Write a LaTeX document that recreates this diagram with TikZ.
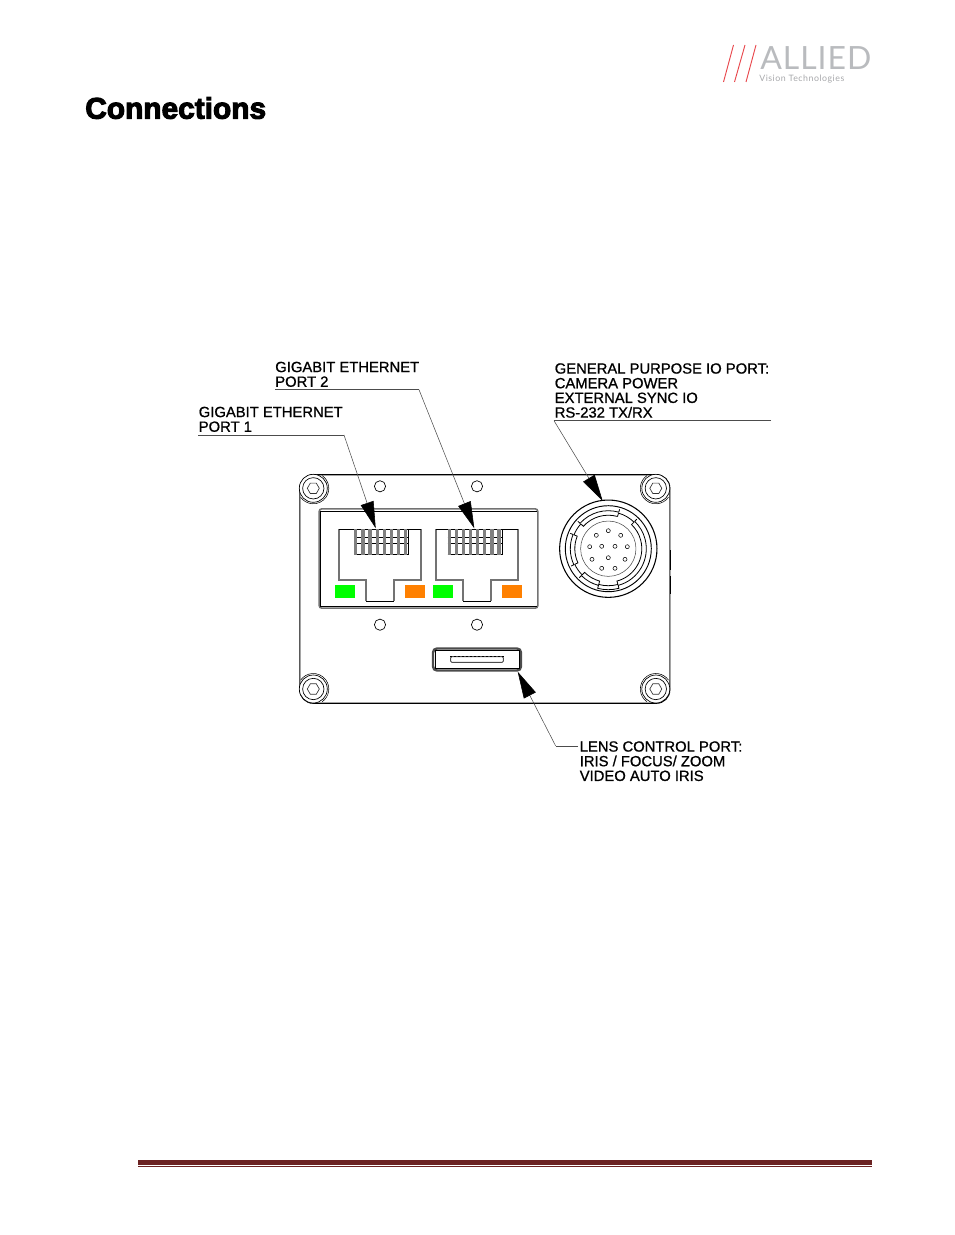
\documentclass[tikz,border=0pt]{standalone}
\usepackage{fontspec}
\usepackage{tikz}
\usetikzlibrary{arrows.meta,shapes.geometric}
\setmainfont{Liberation Sans}
\newfontfamily\headfont[FakeBold=3.5]{Liberation Sans Bold}
\newfontfamily\labelfont[FakeBold=0.9]{Liberation Sans}
\newfontfamily\logofont[LetterSpace=3]{Lato}
\newfontfamily\logosub[LetterSpace=6]{Lato}
\definecolor{rulered}{HTML}{6B2222}
\definecolor{logored}{HTML}{E8474C}
\definecolor{logogrey}{HTML}{B9BBBE}
\definecolor{ledgreen}{HTML}{00FF00}
\definecolor{ledorange}{HTML}{FF8000}
\tikzstyle{portlabel}=[anchor=north west,inner sep=0pt,align=left,font=\labelfont\fontsize{11.1}{11}\selectfont]
\tikzstyle{leader}=[draw,black!70,line width=.4pt,-{Triangle[length=20pt,width=10pt,black]}]
\tikzstyle{under}=[draw,black!70,line width=.4pt]
\tikzstyle{thinline}=[draw,black,line width=.6pt]
\tikzstyle{greyline}=[draw,black!55,line width=1.1pt]
\tikzstyle{flare}=[draw,black,line width=.4pt]
\tikzstyle{screw}=[circle,draw,fill=white,line width=.5pt,inner sep=0pt]
\tikzstyle{hexbolt}=[regular polygon,regular polygon sides=6,draw,black!80,line width=.5pt,minimum size=9pt,inner sep=0pt]
\tikzstyle{hole}=[circle,draw,line width=.5pt,minimum size=8.4pt,inner sep=0pt]
\tikzstyle{slot}=[rectangle,fill=black!50,anchor=north west,minimum width=2.4pt,minimum height=19.5pt,inner sep=0pt]
\tikzstyle{led}=[rectangle,minimum width=15pt,minimum height=9.75pt,inner sep=0pt]
\tikzstyle{pinhole}=[circle,draw,line width=.4pt,minimum size=3pt,inner sep=0pt]
\begin{document}
\begin{tikzpicture}[x=.75pt,y=-.75pt]
        \useasboundingbox (0,0) rectangle (954,1235);
        \node[anchor=west,inner sep=0pt,font=\headfont\fontsize{22.4}{22.4}\selectfont] (title) at (85,108) {Connections};
        % logo
        \coordinate (ra) at (723.5,82);
        \coordinate (rb) at (733.5,45);
        \coordinate (rc) at (734.5,82);
        \coordinate (rd) at (745,45);
        \coordinate (re) at (746,82);
        \coordinate (rf) at (756,45);
        \draw[logored,line width=.7pt] (ra) to (rb);
        \draw[logored,line width=.7pt] (rc) to (rd);
        \draw[logored,line width=.7pt] (re) to (rf);
        \node[anchor=base west,inner sep=0pt,text=logogrey,font=\logofont\fontsize{24}{24}\selectfont] (allied) at (760,69) {ALLIED};
        \node[anchor=base west,inner sep=0pt,text=logogrey!90!black,font=\logosub\fontsize{6.6}{7}\selectfont] (vision) at (759,81.5) {Vision Technologies};
        % bottom rule
        \fill[rulered] (138,1160) rectangle (872,1164.7);
        \fill[rulered] (138,1165.7) rectangle (872,1167);
        % camera body
        \node[rectangle,draw,rounded corners=10pt,line width=.8pt,minimum width=277.5pt,minimum height=171.4pt,inner sep=0pt] (body) at (484.8,589) {};
        \draw[greyline] (669.7,500) to (669.7,680);
        \draw[thinline,line width=1pt] (670.5,550) to (670.5,570);
        \draw[thinline,line width=1pt] (670.5,576) to (670.5,594);
        \node[screw,minimum size=21pt] (sa) at (313.3,488.3) {};
        \node[screw,minimum size=16pt] (sai) at (313.3,488.3) {};
        \node[hexbolt] (sah) at (313.3,488.3) {};
        \node[screw,minimum size=21pt] (sb) at (655.8,488.3) {};
        \node[screw,minimum size=16pt] (sbi) at (655.8,488.3) {};
        \node[hexbolt] (sbh) at (655.8,488.3) {};
        \node[screw,minimum size=21pt] (sc) at (313.3,689) {};
        \node[screw,minimum size=16pt] (sci) at (313.3,689) {};
        \node[hexbolt] (sch) at (313.3,689) {};
        \node[screw,minimum size=21pt] (sd) at (655.8,689) {};
        \node[screw,minimum size=16pt] (sdi) at (655.8,689) {};
        \node[hexbolt] (sdh) at (655.8,689) {};
        \begin{scope}[shift={(313.3,488.3)},x=.75pt,y=.75pt]
        \draw[flare] (55:15.5) arc (55:-145:15.5);
        \end{scope}
        \begin{scope}[shift={(655.8,488.3)},x=.75pt,y=.75pt]
        \draw[flare] (125:15.5) arc (125:325:15.5);
        \end{scope}
        \begin{scope}[shift={(313.3,689)},x=.75pt,y=.75pt]
        \draw[flare] (-55:15.5) arc (-55:145:15.5);
        \end{scope}
        \begin{scope}[shift={(655.8,689)},x=.75pt,y=.75pt]
        \draw[flare] (35:15.5) arc (35:235:15.5);
        \end{scope}
        \node[hole] (ha) at (380,486.3) {};
        \node[hole] (hb) at (477,486.3) {};
        \node[hole] (hc) at (380,624.7) {};
        \node[hole] (hd) at (477,624.7) {};
        % ethernet panel
        \node[rectangle,draw,black!55,rounded corners=2pt,line width=1.2pt,minimum width=164pt,minimum height=74.5pt,inner sep=0pt] (panel) at (428.5,558.5) {};
        \draw[thinline] (320,511) to (537,511);
        \draw[thinline] (320,511) to (320,607);
        \draw[thinline] (320,606) to (537,606);
        % port 1
        \draw[greyline] (339,529) -- (339,580) -- (366,580) -- (366,601);
        \draw[greyline] (394,601) -- (394,580) -- (421,580) -- (421,529);
        \draw[thinline] (339,529) -- (421,529);
        \draw[thinline] (366,601) -- (394,601);
        % port 2
        \draw[greyline] (436,529) -- (436,580) -- (463,580) -- (463,601);
        \draw[greyline] (491,601) -- (491,580) -- (518,580) -- (518,529);
        \draw[thinline] (436,529) -- (518,529);
        \draw[thinline] (463,601) -- (491,601);
        \draw[thinline,line width=.5pt] (354,537) to (408.6,537);
        \draw[thinline,line width=.5pt] (354,543) to (408.6,543);
        \draw[thinline,line width=.5pt] (354,554.5) to (408.6,554.5);
        \draw[thinline,line width=.5pt] (408.6,529) to (408.6,554.5);
        \draw[thinline,line width=.5pt] (447.5,537) to (502.1,537);
        \draw[thinline,line width=.5pt] (447.5,543) to (502.1,543);
        \draw[thinline,line width=.5pt] (447.5,554.5) to (502.1,554.5);
        \draw[thinline,line width=.5pt] (502.1,529) to (502.1,554.5);
        \node[slot] (pa) at (354,529) {};
        \node[slot] (pb) at (361.1,529) {};
        \node[slot] (pc) at (368.2,529) {};
        \node[slot] (pd) at (375.3,529) {};
        \node[slot] (pe) at (382.4,529) {};
        \node[slot] (pf) at (389.5,529) {};
        \node[slot] (pg) at (396.6,529) {};
        \node[slot] (ph) at (403.7,529) {};
        \node[slot] (qa) at (447.5,529) {};
        \node[slot] (qb) at (454.6,529) {};
        \node[slot] (qc) at (461.7,529) {};
        \node[slot] (qd) at (468.8,529) {};
        \node[slot] (qe) at (475.9,529) {};
        \node[slot] (qf) at (483,529) {};
        \node[slot] (qg) at (490.1,529) {};
        \node[slot] (qh) at (497.2,529) {};
        \node[led,fill=ledgreen] (la) at (345,591.5) {};
        \node[led,fill=ledorange] (lb) at (415,591.5) {};
        \node[led,fill=ledgreen] (lc) at (442.5,591.5) {};
        \node[led,fill=ledorange] (ld) at (512,591.5) {};
        % io connector
        \node[circle,draw,line width=.8pt,minimum size=73pt,inner sep=0pt] (gpio) at (608.3,548.7) {};
        \node[circle,draw,line width=.7pt,minimum size=64.5pt,inner sep=0pt] (gpiob) at (608.3,548.7) {};
        \node[circle,draw,black!70,line width=.4pt,minimum size=41.5pt,inner sep=0pt] (gpioc) at (608.3,548.7) {};
        \begin{scope}[shift={(608.3,548.7)},x=.75pt,y=.75pt]
        \draw[thinline] (74:38) arc (74:138:38) -- (138:41) (158:41) -- (158:38) arc (158:205:38) -- (205:41) (225:41) -- (225:38) arc (225:255:38) -- (255:41) arc (255:285:41) -- (285:38) arc (285:406:38) -- (406:41) (434:41) -- (434:38);
        \draw[thinline] (74:33.5) arc (74:138:33.5) -- (138:37) arc (138:158:37) -- (158:33.5) arc (158:205:33.5) -- (205:37) arc (205:225:37) -- (225:33.5) arc (225:255:33.5) -- (255:37) arc (255:285:37) -- (285:33.5) arc (285:406:33.5) -- (406:37) arc (406:434:37) -- (434:33.5);
        \end{scope}
        \node[pinhole] (n1) at (596.3,535.3) {};
        \node[pinhole] (n2) at (608.3,530.7) {};
        \node[pinhole] (n3) at (620.7,535.3) {};
        \node[pinhole] (n4) at (589.7,546.7) {};
        \node[pinhole] (n5) at (601.7,546.3) {};
        \node[pinhole] (n6) at (615,546.3) {};
        \node[pinhole] (n7) at (627.3,546.7) {};
        \node[pinhole] (n8) at (592,559.3) {};
        \node[pinhole] (n9) at (608.3,557.7) {};
        \node[pinhole] (n10) at (625,559.3) {};
        \node[pinhole] (n11) at (601.7,568.3) {};
        \node[pinhole] (n12) at (615,568.3) {};
        % lens connector
        \node[rectangle,draw,black!70,rounded corners=3pt,line width=1.8pt,minimum width=66pt,minimum height=16.5pt,inner sep=0pt] (lens) at (477,659.5) {};
        \node[rectangle,draw,line width=.7pt,minimum width=63.5pt,minimum height=13pt,inner sep=0pt] (lensb) at (477.5,659.3) {};
        \node[rectangle,draw,black!70,rounded corners=.8pt,line width=.7pt,minimum width=39.5pt,minimum height=4.2pt,inner sep=0pt] (lensc) at (477,659.5) {};
        \draw[thinline,dashed,dash pattern=on 1.5pt off 1.5pt,line width=.9pt] (lensc.north west) to (lensc.north east);
        % labels
        \node[portlabel] (lgigb) at (275,361.5) {GIGABIT ETHERNET\\PORT 2};
        \node[portlabel] (lgiga) at (198.5,406.5) {GIGABIT ETHERNET\\PORT 1};
        \node[portlabel] (lio) at (554.5,363) {GENERAL PURPOSE IO PORT:\\CAMERA POWER\\EXTERNAL SYNC IO\\RS-232 TX/RX};
        \node[portlabel] (llens) at (579.5,741) {LENS CONTROL PORT:\\IRIS / FOCUS/ ZOOM\\VIDEO AUTO IRIS};
        % leaders
        \coordinate (ua) at (198,435);
        \coordinate (ub) at (344,435);
        \coordinate (ta) at (375.7,528.3);
        \coordinate (uc) at (275,389.7);
        \coordinate (ud) at (419,389.7);
        \coordinate (tb) at (474.3,528.3);
        \coordinate (ue) at (771,420.7);
        \coordinate (uf) at (554,420.7);
        \coordinate (tc) at (602.7,501);
        \coordinate (ug) at (578,746);
        \coordinate (uh) at (555.7,746);
        \coordinate (td) at (517.7,671.7);
        \draw[under] (ua) to (ub);
        \draw[leader] (ub) to (ta);
        \draw[under] (uc) to (ud);
        \draw[leader] (ud) to (tb);
        \draw[under] (ue) to (uf);
        \draw[leader] (uf) to (tc);
        \draw[under] (ug) to (uh);
        \draw[leader] (uh) to (td);
      \end{tikzpicture}
\end{document}
